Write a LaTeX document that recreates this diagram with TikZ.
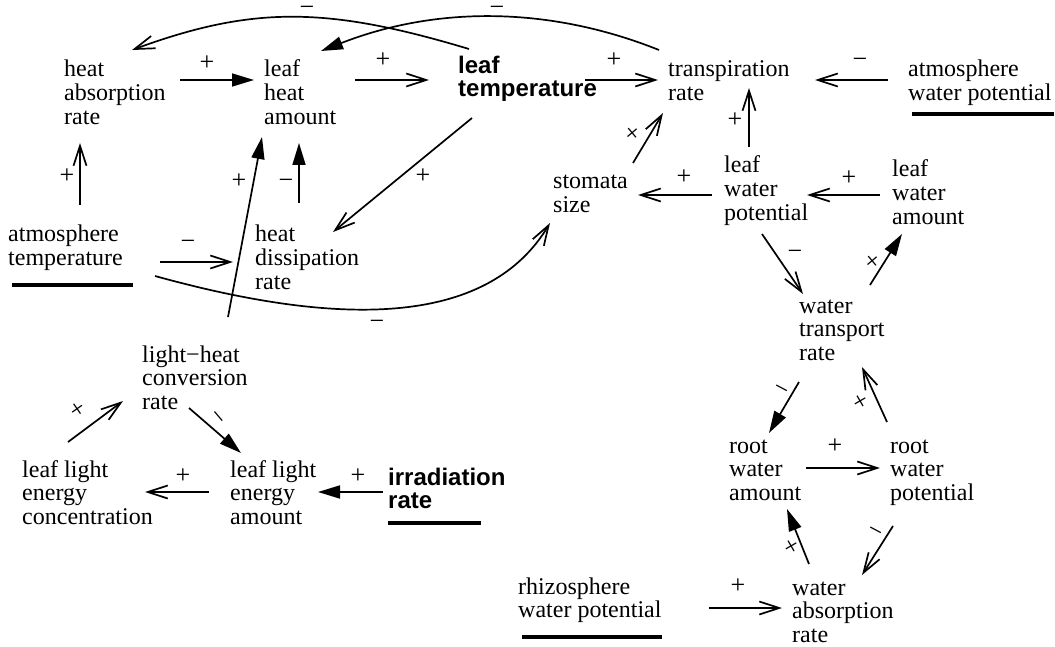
\documentclass[tikz,border=0pt]{standalone}
\usepackage{fontspec}
\setmainfont{Liberation Serif}
\setsansfont{Liberation Sans}
\usetikzlibrary{arrows.meta}
\newcommand{\stk}[1]{\vtop{\let\\\cr\halign{##\hfil\cr#1\crcr}}}
\begin{document}
\begin{tikzpicture}[x=1pt,y=-1pt,
  txt/.style={font=\fontsize{24}{23.6}\selectfont, inner sep=0pt, anchor=base west},
  btxt/.style={font=\fontsize{24}{23}\selectfont\sffamily\bfseries, inner sep=0pt, anchor=base west},
  sgn/.style={font=\fontsize{26}{26}\selectfont, inner sep=0pt, text height=13pt, text depth=0pt},
  conn/.style={line width=1.7pt},
  op/.style={conn, -{Straight Barb[length=20pt,width=13pt]}},
  fl/.style={conn, -{Triangle[length=22pt,width=13pt]}},
  ul/.style={line width=3.5pt}]
\useasboundingbox (0,0) rectangle (1055,647);

% nodes
\node[txt] (hab) at (64,77) {\stk{heat\\absorption\\rate}};
\node[txt] (lha) at (264,77) {\stk{leaf\\heat\\amount}};
\node[btxt] (lt) at (458,74) {\stk{leaf\\temperature}};
\node[txt] (tr) at (668,77) {\stk{transpiration\\rate}};
\node[txt] (awp) at (908,77) {\stk{atmosphere\\water potential}};
\node[txt] (at) at (8,242) {\stk{atmosphere\\temperature}};
\node[txt] (hdr) at (255,242) {\stk{heat\\dissipation\\rate}};
\node[txt] (ss) at (553,189) {\stk{stomata\\size}};
\node[txt] (lwp) at (724,173) {\stk{leaf\\water\\potential}};
\node[txt] (lwa) at (892,177) {\stk{leaf\\water\\amount}};
\node[txt] (wtr) at (799,313) {\stk{water\\transport\\rate}};
\node[txt] (lhc) at (142,362) {\stk{light−heat\\conversion\\rate}};
\node[txt] (llc) at (22,477) {\stk{leaf light\\energy\\concentration}};
\node[txt] (lla) at (230,477) {\stk{leaf light\\energy\\amount}};
\node[btxt] (ir) at (388,485) {\stk{irradiation\\rate}};
\node[txt] (rwa) at (729,453) {\stk{root\\water\\amount}};
\node[txt] (rwp) at (890,453) {\stk{root\\water\\potential}};
\node[txt] (war) at (792,595) {\stk{water\\absorption\\rate}};
\node[txt] (rhz) at (518,594) {\stk{rhizosphere\\water potential}};

% underlines of exogenous variables
\draw[ul] ([shift={(4,43)}]at.base west) -- ([shift={(125,43)}]at.base west);
\draw[ul] ([shift={(4,37)}]awp.base west) -- ([shift={(146,37)}]awp.base west);
\draw[ul] ([shift={(0,38)}]ir.base west) -- ([shift={(93,38)}]ir.base west);
\draw[ul] ([shift={(4,43)}]rhz.base west) -- ([shift={(144,43)}]rhz.base west);

% connectors
\draw[fl] ([shift={(116,3)}]hab.base west) -- ([shift={(-10,3)}]lha.base west);
\node[sgn] (s1) at (207,64) {+};
\draw[op] ([shift={(91,3)}]lha.base west) -- ([shift={(-29,6)}]lt.base west);
\node[sgn] (s2) at (383,61) {+};
\draw[op] ([shift={(127,6)}]lt.base west) -- ([shift={(-10,3)}]tr.base west);
\node[sgn] (s3) at (614,61) {+};
\draw[op] ([shift={(-20,3)}]awp.base west) -- ([shift={(147,3)}]tr.base west);
\node[sgn] (s4) at (860,61) {−};
\draw[op] ([shift={(25,-26)}]lwp.base west) -- ([shift={(81,11)}]tr.base west);
\node[sgn] (s5) at (735,121) {+};
\draw[op] ([shift={(-12,18)}]lwa.base west) -- ([shift={(83,22)}]lwp.base west);
\node[sgn] (s6) at (849,179) {+};
\draw[op] ([shift={(-12,22)}]lwp.base west) -- ([shift={(85,6)}]ss.base west);
\node[sgn] (s7) at (684,178) {+};
\draw[op] ([shift={(80,-26)}]ss.base west) -- ([shift={(-5,36)}]tr.base west);
\node[sgn, rotate=40] (s8) at (634,135) {+};
\draw[op] ([shift={(38,61)}]lwp.base west) -- ([shift={(4,-19)}]wtr.base west);
\node[sgn] (s9) at (795,253) {−};
\draw[fl] ([shift={(71,-28)}]wtr.base west) -- ([shift={(10,57)}]lwa.base west);
\node[sgn, rotate=40] (s10) at (874,263) {+};
\draw[fl] ([shift={(0,69)}]wtr.base west) -- ([shift={(40,-20)}]rwa.base west);
\node[sgn, rotate=-28] (s11) at (781,390) {−};
\draw[op] ([shift={(-3,-31)}]rwp.base west) -- ([shift={(63,54)}]wtr.base west);
\node[sgn, rotate=30] (s12) at (862,403) {+};
\draw[op] ([shift={(77,15)}]rwa.base west) -- ([shift={(-10,15)}]rwp.base west);
\node[sgn] (s13) at (835,447) {+};
\draw[op] ([shift={(3,73)}]rwp.base west) -- ([shift={(70,-20)}]war.base west);
\node[sgn, rotate=-28] (s14) at (875,532) {−};
\draw[fl] ([shift={(17,-31)}]war.base west) -- ([shift={(58,56)}]rwa.base west);
\node[sgn, rotate=30] (s15) at (793,548) {+};
\draw[op] ([shift={(191,14)}]rhz.base west) -- ([shift={(-10,13)}]war.base west);
\node[sgn] (s16) at (738,587) {+};
\draw[fl] ([shift={(-5,7)}]ir.base west) -- ([shift={(88,15)}]lla.base west);
\node[sgn] (s17) at (358,477) {+};
\draw[op] ([shift={(-21,15)}]lla.base west) -- ([shift={(123,15)}]llc.base west);
\node[sgn] (s18) at (183,477) {+};
\draw[op] ([shift={(46,-35)}]llc.base west) -- ([shift={(-19,39)}]lhc.base west);
\node[sgn, rotate=35] (s19) at (79,411) {+};
\draw[fl] ([shift={(47,46)}]lhc.base west) -- ([shift={(11,-24)}]lla.base west);
\node[sgn, rotate=-50] (s20) at (217,418) {−};
\draw[fl] ([shift={(86,-45)}]lhc.base west) -- ([shift={(-2,60)}]lha.base west);
\node[sgn] (s21) at (239,182) {+};
\draw[fl] ([shift={(44,-39)}]hdr.base west) -- ([shift={(35,66)}]lha.base west);
\node[sgn] (s22) at (286,182) {−};
\draw[op] ([shift={(152,20)}]at.base west) -- ([shift={(-22,20)}]hdr.base west);
\node[sgn] (s23) at (188,243) {−};
\draw[op] ([shift={(72,-37)}]at.base west) -- ([shift={(16,66)}]hab.base west);
\node[sgn] (s24) at (67,177) {+};
\draw[op] ([shift={(14,44)}]lt.base west) -- ([shift={(78,-10)}]hdr.base west);
\node[sgn] (s25) at (423,177) {+};
\draw[op] ([shift={(147,34)}]at.base west) .. controls (350,330) and (490,323) .. ([shift={(-3,34)}]ss.base west);
\node[sgn] (s26) at (377,323) {−};
\draw[op] ([shift={(11,-25)}]lt.base west) .. controls (326,6) and (252,6) .. ([shift={(68,-27)}]hab.base west);
\node[sgn] (s27) at (307,9) {−};
\draw[fl] ([shift={(-9,-27)}]tr.base west) .. controls (549,6) and (436,6) .. ([shift={(57,-26)}]lha.base west);
\node[sgn] (s28) at (497,9) {−};
\end{tikzpicture}
\end{document}
